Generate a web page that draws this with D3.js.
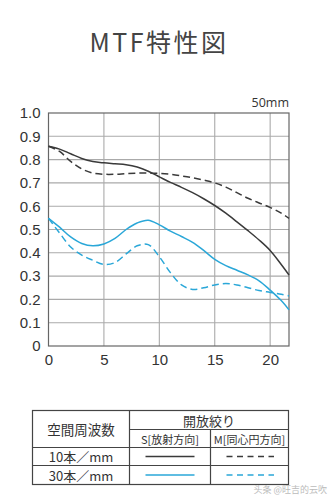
<!DOCTYPE html>
<html>
<head>
<meta charset="utf-8">
<script src="https://cdn.jsdelivr.net/npm/d3@7/dist/d3.min.js"></script>
<style>
  html, body { margin: 0; padding: 0; background: #fff; }
  svg { display: block; }
</style>
</head>
<body>
<svg id="chart" width="336" height="500"></svg>
<script>
// Spatial frequency samples (image height, mm)
const freq = [0, 1, 2, 3, 4, 5, 6, 7, 8, 9, 10, 11, 12, 13, 14, 15, 16, 17, 18, 19, 20, 21, 21.7];

// MTF contrast values at wide-open aperture
const s10 = [0.857, 0.845, 0.825, 0.805, 0.792, 0.786, 0.782, 0.778, 0.768, 0.750, 0.726, 0.702, 0.681, 0.658, 0.632, 0.603, 0.570, 0.533, 0.495, 0.455, 0.410, 0.350, 0.305];
const m10 = [0.857, 0.835, 0.792, 0.760, 0.742, 0.737, 0.737, 0.740, 0.742, 0.742, 0.741, 0.737, 0.730, 0.722, 0.712, 0.700, 0.682, 0.658, 0.634, 0.614, 0.595, 0.570, 0.548];
const s30 = [0.548, 0.510, 0.468, 0.440, 0.430, 0.438, 0.462, 0.500, 0.528, 0.540, 0.520, 0.493, 0.470, 0.445, 0.410, 0.372, 0.345, 0.325, 0.305, 0.280, 0.240, 0.195, 0.155];
const m30 = [0.548, 0.485, 0.425, 0.390, 0.368, 0.350, 0.358, 0.395, 0.430, 0.435, 0.383, 0.315, 0.262, 0.243, 0.250, 0.262, 0.268, 0.262, 0.250, 0.238, 0.230, 0.222, 0.215];

const xTicks = [0, 5, 10, 15, 20];
const yTicks = [0, 0.1, 0.2, 0.3, 0.4, 0.5, 0.6, 0.7, 0.8, 0.9, 1.0];

const title = "MTF特性図";
const focalLabel = "50mm";
const tableHead = "空間周波数";
const tableAperture = "開放絞り";
const tableS = "S[放射方向]";
const tableM = "M[同心円方向]";
const rowLabels = ["10本／mm", "30本／mm"];
const watermark = "头条 @旺吉的云吹";

const BLACK = "#3a3a3a";
const BLUE = "#2aa7d8";
const series = [
  { values: s10, color: BLACK, dash: null },
  { values: m10, color: BLACK, dash: "7,4" },
  { values: s30, color: BLUE, dash: null },
  { values: m30, color: BLUE, dash: "7,4" }
];

const svg = d3.select("#chart");
const cjk = "'Noto Sans CJK JP', 'Noto Sans', sans-serif";
const num = "'Liberation Sans Narrow', 'Liberation Sans', Arial, sans-serif";

// Title
svg.append("text")
  .attr("x", 159).attr("y", 52)
  .attr("text-anchor", "middle")
  .attr("font-family", cjk)
  .attr("font-size", 25)
  .attr("letter-spacing", 2.5)
  .attr("fill", "#444")
  .text(title);

// Plot area
const L = 48.5, R = 289, T = 113, B = 346;
const x = d3.scaleLinear().domain([0, 21.7]).range([L, R]);
const y = d3.scaleLinear().domain([0, 1]).range([B, T]);

// Grid
const grid = svg.append("g");
grid.selectAll("line.h").data(yTicks.slice(1, -1)).join("line")
  .attr("x1", L).attr("x2", R)
  .attr("y1", d => y(d)).attr("y2", d => y(d))
  .attr("stroke", "#aaa").attr("stroke-width", 1.1);
grid.selectAll("line.v").data(xTicks.slice(1)).join("line")
  .attr("y1", T).attr("y2", B)
  .attr("x1", d => x(d)).attr("x2", d => x(d))
  .attr("stroke", "#aaa").attr("stroke-width", 1.1);
grid.append("rect")
  .attr("x", L).attr("y", T).attr("width", R - L).attr("height", B - T)
  .attr("fill", "none").attr("stroke", "#666").attr("stroke-width", 1.2);

// Axes
const yAxis = d3.axisLeft(y).tickValues(yTicks).tickSize(0).tickPadding(8)
  .tickFormat(d => d === 0 ? "0" : d3.format(".1f")(d));
svg.append("g").attr("transform", `translate(${L},0)`).call(yAxis)
  .call(g => g.select(".domain").remove())
  .selectAll("text")
  .attr("font-family", num).attr("font-size", 15).attr("fill", "#333");

const xAxis = d3.axisBottom(x).tickValues(xTicks).tickSize(0).tickPadding(8);
svg.append("g").attr("transform", `translate(0,${B})`).call(xAxis)
  .call(g => g.select(".domain").remove())
  .selectAll("text")
  .attr("font-family", num).attr("font-size", 15).attr("fill", "#333");

svg.append("text")
  .attr("x", R).attr("y", 107)
  .attr("text-anchor", "end")
  .attr("font-family", "'Open Sans', sans-serif")
  .attr("font-size", 12.5)
  .attr("fill", "#333")
  .text(focalLabel);

// MTF curves
const line = d3.line()
  .x((d, i) => x(freq[i]))
  .y(d => y(d))
  .curve(d3.curveCatmullRom.alpha(0.5));

svg.append("g").selectAll("path").data(series).join("path")
  .attr("d", d => line(d.values))
  .attr("fill", "none")
  .attr("stroke", d => d.color)
  .attr("stroke-width", 1.5)
  .attr("stroke-dasharray", d => d.dash);

// Legend table
const tL = 32.5, tR = 288.5, tT = 410.5, tB = 484.5;
const c1 = 129.5, c2 = 210.5;
const r1 = 429.5, r2 = 447.5, r3 = 465.5;
const tbl = svg.append("g").attr("stroke", "#444").attr("stroke-width", 1.2);
tbl.append("rect").attr("x", tL).attr("y", tT).attr("width", tR - tL).attr("height", tB - tT).attr("fill", "none");
tbl.append("line").attr("x1", c1).attr("x2", c1).attr("y1", tT).attr("y2", tB);
tbl.append("line").attr("x1", c2).attr("x2", c2).attr("y1", r1).attr("y2", tB);
tbl.append("line").attr("x1", c1).attr("x2", tR).attr("y1", r1).attr("y2", r1);
tbl.append("line").attr("x1", tL).attr("x2", tR).attr("y1", r2).attr("y2", r2);
tbl.append("line").attr("x1", tL).attr("x2", tR).attr("y1", r3).attr("y2", r3);

const txt = (s, cx, cy, size) => svg.append("text")
  .attr("x", cx).attr("y", cy)
  .attr("text-anchor", "middle")
  .attr("dominant-baseline", "central")
  .attr("font-family", cjk)
  .attr("font-size", size)
  .attr("fill", "#333")
  .text(s);

txt(tableHead, (tL + c1) / 2, (tT + r2) / 2, 13.5);
txt(tableAperture, (c1 + tR) / 2, (tT + r1) / 2, 13);
txt(tableS, (c1 + c2) / 2, (r1 + r2) / 2, 11);
txt(tableM, (c2 + tR) / 2, (r1 + r2) / 2, 11);
txt(rowLabels[0], (tL + c1) / 2, (r2 + r3) / 2, 13);
txt(rowLabels[1], (tL + c1) / 2, (r3 + tB) / 2, 13);

// Legend line samples
const legendRows = [
  { cy: (r2 + r3) / 2, color: BLACK },
  { cy: (r3 + tB) / 2, color: BLUE }
];
legendRows.forEach(r => {
  svg.append("line").attr("x1", 145.5).attr("x2", 194.5).attr("y1", r.cy).attr("y2", r.cy)
    .attr("stroke", r.color).attr("stroke-width", 1.5);
  svg.append("line").attr("x1", 226.5).attr("x2", 274).attr("y1", r.cy).attr("y2", r.cy)
    .attr("stroke", r.color).attr("stroke-width", 1.5).attr("stroke-dasharray", "6,4.5");
});

// Watermark
svg.append("text")
  .attr("x", 327).attr("y", 493)
  .attr("text-anchor", "end")
  .attr("font-family", cjk)
  .attr("font-size", 9)
  .attr("fill", "#bbb")
  .text(watermark);
</script>
</body>
</html>
